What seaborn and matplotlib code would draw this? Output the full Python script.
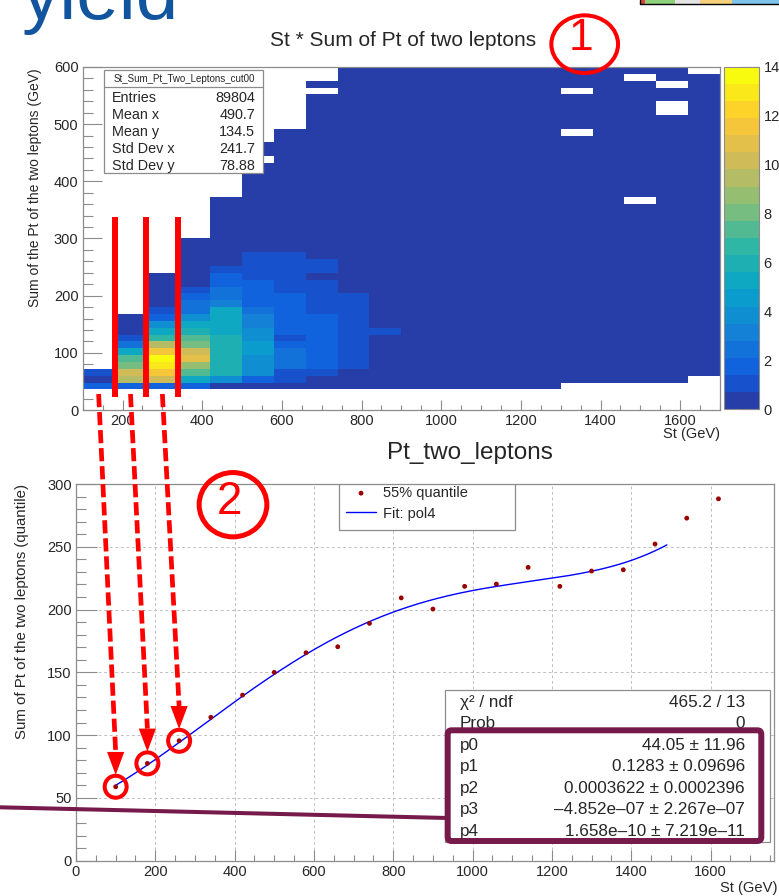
import numpy as np
import pandas as pd
import matplotlib
matplotlib.use("Agg")
import matplotlib.pyplot as plt
import seaborn as sns
from matplotlib.colors import LinearSegmentedColormap, ListedColormap
from matplotlib.patches import Rectangle, Ellipse, Polygon, FancyBboxPatch
from matplotlib.lines import Line2D
from matplotlib.ticker import MultipleLocator
from matplotlib.transforms import IdentityTransform

# ---- top panel: St vs sum of Pt of the two leptons (80 GeV x 12 GeV bins) ----
st_bin_low = [100, 180, 260, 340, 420, 500, 580, 660, 740, 820,
              900, 980, 1060, 1140, 1220, 1300, 1380, 1460, 1540, 1620]
st_bin_width = 80
pt_bin_width = 12
pt_first_bin = [3] * 15 + [4] * 4 + [5]
lo = 0.4  # cells in the lowest (dark blue) level
cell_counts = [
    [1.8, lo, 1.0],
    [1.8, 9.4, 10.2, 8.0, 7.3, 5.0, 2.5, 1.0, lo, lo, lo],
    [1.8, 10.0, 11.5, 12.9, 13.6, 11.5, 9.4, 6.7, 5.2, 3.8, 1.8, 1.0] + [lo] * 5,
    [1.6, 5.0, 7.3, 8.8, 10.8, 10.2, 8.0, 7.5, 6.0, 5.0, 3.8, 2.5, 2.4, 1.6, 1.0] + [lo] * 7,
    [lo, 3.8] + [6.0] * 6 + [5.0] * 4 + [3.1, 2.5, 2.5, 1.8, 1.8, 1.0] + [lo] * 10,
    [lo, 1.8, 3.8, 3.8, 3.8, 4.5, 4.5, 3.8, 3.8, 3.1, 3.1, 2.5] + [1.8] * 4 + [1.0] * 4
    + [lo] * 13 + [0, lo, lo],
    [lo, 1.0, 1.0, 2.3, 2.3, 2.3, 1.8, 1.0] + [1.8] * 6 + [1.0] * 6 + [lo] * 18,
    [lo, lo, 1.0] + [1.8] * 8 + [1.0] * 5 + [lo, 1.0, 1.0] + [lo] * 24 + [0, lo],
    [lo] * 3 + [1.0] * 11 + [lo] * 33,
    [lo] * 8 + [1.0] + [lo] * 38,
    [lo] * 47,
    [lo] * 47,
    [lo] * 47,
    [lo] * 47,
    [lo] * 47,
    [lo] * 36 + [0] + [lo] * 5 + [0] + [lo] * 3,
    [lo] * 46,
    [lo] * 26 + [0] + [lo] * 17 + [0, lo],
    [lo] * 39 + [0, 0, lo, lo, 0, lo, lo],
    [lo] * 44,
]
stat_names = ["Entries", "Mean x", "Mean y", "Std Dev x", "Std Dev y"]
stat_values = ["89804", "490.7", "134.5", "241.7", "78.88"]
marked_edges = [180, 260, 340]
marked_centres = [140, 220, 300]

# ---- bottom panel: 55% quantile per St slice + pol4 fit ----
quantile_st = [100, 180, 260, 340, 420, 500, 580, 660, 740, 820,
               900, 980, 1060, 1140, 1220, 1300, 1380, 1460, 1540, 1620]
quantile_pt = [58.9, 77.5, 95.5, 114.2, 131.9, 150.0, 165.6, 170.4, 189.0, 209.3,
               200.4, 218.5, 220.3, 233.6, 218.5, 230.7, 231.7, 252.2, 272.8, 288.2]
fit_params = [44.05, 0.1283, 0.0003622, -4.852e-07, 1.658e-10]
fit_range = (100, 1490)
fit_names = ["χ² / ndf", "Prob", "p0", "p1", "p2", "p3", "p4"]
fit_values = ["465.2 / 13", "0", "44.05 ± 11.96", "0.1283 ± 0.09696",
              "0.0003622 ± 0.0002396", "–4.852e–07 ± 2.267e–07",
              "1.658e–10 ± 7.219e–11"]

sns.set_style("white")
plt.rcParams["font.family"] = ["Liberation Sans", "DejaVu Sans"]
plt.rcParams["lines.scale_dashes"] = False

W, H = 779, 896
fig = plt.figure(figsize=(W / 100, H / 100), dpi=100)
ID = IdentityTransform()
FRAME = "#8c8c8c"


def frect(x0, y0, x1, y1):
    return [x0 / W, 1 - y1 / H, (x1 - x0) / W, (y1 - y0) / H]


def ftext(x, y, s, **kw):
    kw.setdefault("zorder", 11)
    fig.text(x, H - y, s, transform=ID, **kw)


ax1 = fig.add_axes(frect(82.7, 67, 720, 410))
cax = fig.add_axes(frect(724, 66.7, 759.3, 409.3))
ax2 = fig.add_axes(frect(76, 484, 774, 860.7))

# ROOT kBird palette with 20 contour levels
bird_stops = [0.0, 0.125, 0.25, 0.375, 0.5, 0.625, 0.75, 0.875, 1.0]
bird_rgb = [(0.2082, 0.1664, 0.5293), (0.0592, 0.3599, 0.8684), (0.0780, 0.5041, 0.8385),
            (0.0232, 0.6419, 0.7914), (0.1802, 0.7178, 0.6425), (0.5301, 0.7492, 0.4662),
            (0.8186, 0.7328, 0.3499), (0.9956, 0.7862, 0.1968), (0.9764, 0.9832, 0.0539)]
bird = LinearSegmentedColormap.from_list("bird", list(zip(bird_stops, bird_rgb)))
bird20 = ListedColormap([bird(min((i + 0.99) / 20, 1.0)) for i in range(20)])

rows = []
for st0, first, counts in zip(st_bin_low, pt_first_bin, cell_counts):
    for k, c in enumerate(counts):
        rows.append((st0 + st_bin_width / 2, (first + k + 0.5) * pt_bin_width, c))
cells = pd.DataFrame(rows, columns=["st", "pt", "w"])
st_edges = st_bin_low + [st_bin_low[-1] + st_bin_width]
pt_edges = np.arange(0, 601, pt_bin_width)

sns.histplot(data=cells, x="st", y="pt", weights="w", bins=(st_edges, pt_edges),
             cmap=bird20, cbar=True, cbar_ax=cax, ax=ax1)
mesh = ax1.collections[0]
mesh.set_clim(0, 14)

ax1.set_xlim(100, 1700)
ax1.set_ylim(0, 600)
ax1.set_xlabel("")
ax1.set_ylabel("")
ax1.xaxis.set_major_locator(MultipleLocator(200))
ax1.xaxis.set_minor_locator(MultipleLocator(50))
ax1.yaxis.set_major_locator(MultipleLocator(100))
ax1.yaxis.set_minor_locator(MultipleLocator(20))
ax1.tick_params(axis="x", which="major", direction="in", length=7.4, width=0.8,
                color=FRAME, labelsize=10.5, pad=3, bottom=True)
ax1.tick_params(axis="x", which="minor", direction="in", length=3.7, width=0.8,
                color=FRAME, bottom=True)
ax1.tick_params(axis="y", which="major", direction="in", length=13.7, width=0.8,
                color=FRAME, labelsize=10.5, pad=3, left=True)
ax1.tick_params(axis="y", which="minor", direction="in", length=6.9, width=0.8,
                color=FRAME, left=True)
for sp in ax1.spines.values():
    sp.set_color(FRAME)
    sp.set_linewidth(0.9)
ax1.vlines(marked_edges, 23, 338, color="red", lw=4.3, zorder=5)

cax.set_yticks(range(0, 15, 2))
cax.tick_params(axis="y", direction="in", length=13.4, width=0.8, color="#555555",
                labelsize=10.5, pad=3, right=True, left=False)
cax.yaxis.set_minor_locator(plt.NullLocator())
for sp in cax.spines.values():
    sp.set_color(FRAME)
    sp.set_linewidth(0.8)

# ---- bottom panel ----
sns.scatterplot(x=quantile_st, y=quantile_pt, ax=ax2, color="#990000", s=12,
                edgecolor="none", label="55% quantile", zorder=4)
fit_x = np.linspace(fit_range[0], fit_range[1], 300)
fit_y = np.polyval(fit_params[::-1], fit_x)
sns.lineplot(x=fit_x, y=fit_y, ax=ax2, color="#0000ff", lw=1.0, label="Fit: pol4", zorder=3)

ax2.set_xlim(0, 1760)
ax2.set_ylim(0, 300)
ax2.xaxis.set_major_locator(MultipleLocator(200))
ax2.xaxis.set_minor_locator(MultipleLocator(50))
ax2.yaxis.set_major_locator(MultipleLocator(50))
ax2.yaxis.set_minor_locator(MultipleLocator(10))
ax2.grid(True, which="major", linestyle=(0, (2, 2)), color="#bdbdbd", lw=0.7)
ax2.tick_params(axis="x", which="major", direction="in", length=8.1, width=0.8,
                color=FRAME, labelsize=10.5, pad=3, bottom=True)
ax2.tick_params(axis="x", which="minor", direction="in", length=4, width=0.8,
                color=FRAME, bottom=True)
ax2.tick_params(axis="y", which="major", direction="in", length=15, width=0.8,
                color=FRAME, labelsize=10.5, pad=3, left=True)
ax2.tick_params(axis="y", which="minor", direction="in", length=7.5, width=0.8,
                color=FRAME, left=True)
for sp in ax2.spines.values():
    sp.set_color(FRAME)
    sp.set_linewidth(0.9)

ax2.legend(loc="upper left", bbox_to_anchor=(346, H - 486), bbox_transform=ID,
           frameon=False, fontsize=10.5, borderpad=0, borderaxespad=0,
           handlelength=2.06, handletextpad=0.5, labelspacing=0.45)
ax2.add_patch(Rectangle((339, H - 530), 176, 46, transform=ID, fc="white",
                        ec=FRAME, lw=0.9, zorder=4.5))

# circles around the first three quantile points
ax2.scatter(quantile_st[:3], quantile_pt[:3], s=250, facecolors="none",
            edgecolors="red", linewidths=2.9, zorder=6, clip_on=False)

# ---- texts ----
ftext(22, 19.3, "yield", fontsize=55, color="#11559e", va="baseline", ha="left")
ftext(403.5, 45.7, "St * Sum of Pt of two leptons", fontsize=15, va="baseline", ha="center")
ftext(470, 459, "Pt_two_leptons", fontsize=17.5, va="baseline", ha="center")
ftext(35, 68, "Sum of the Pt of the two leptons (GeV)", fontsize=10, rotation=90,
      ha="center", va="top")
ftext(720, 434, "St (GeV)", fontsize=10.5, ha="right", va="center")
ftext(22, 484, "Sum of Pt of the two leptons (quantile)", fontsize=10.8, rotation=90,
      ha="center", va="top")
ftext(777, 888, "St (GeV)", fontsize=10.6, ha="right", va="center")

# stats box of the 2D histogram
fig.add_artist(Rectangle((104.3, H - 173.3), 159, 103.3, transform=ID, fc="white",
                         ec=FRAME, lw=0.9, zorder=10))
fig.add_artist(Line2D([104.3, 263.3], [H - 86.7, H - 86.7], transform=ID,
                      color=FRAME, lw=0.9, zorder=10))
ftext(183.8, 81.7, "St_Sum_Pt_Two_Leptons_cut00", fontsize=7, ha="center", va="baseline")
for i, (n, v) in enumerate(zip(stat_names, stat_values)):
    y = 101.7 + i * 17.1
    ftext(111.7, y, n, fontsize=10.4, ha="left", va="baseline")
    ftext(255, y, v, fontsize=10.4, ha="right", va="baseline")

# fit box
fig.add_artist(Rectangle((445, H - 842), 325, 152, transform=ID, fc="white",
                         ec=FRAME, lw=0.9, zorder=10))
for i, (n, v) in enumerate(zip(fit_names, fit_values)):
    y = 706.7 + i * 21.5
    ftext(460, y, n, fontsize=12.3, ha="left", va="baseline")
    ftext(745, y, v, fontsize=12.3, ha="right", va="baseline")

# ---- annotations ----
PURPLE = "#761a4c"
fig.add_artist(FancyBboxPatch((447.7, H - 841), 313.6, 110.7, transform=ID,
                              boxstyle="round,pad=0,rounding_size=4", fill=False,
                              ec=PURPLE, lw=4.3, zorder=12))
fig.add_artist(Line2D([0, 447.7], [H - 807.3, H - 818], transform=ID, color=PURPLE,
                      lw=2.9, zorder=12, solid_capstyle="butt"))

fig.add_artist(Ellipse((584.7, H - 44.2), 66.7, 57.7, transform=ID, fill=False,
                       ec="red", lw=2.9, zorder=13))
ftext(581, 38, "1", fontsize=32, color="red", ha="center", va="center", zorder=13)
fig.add_artist(Ellipse((233, H - 504.7), 67.7, 64.3, transform=ID, fill=False,
                       ec="red", lw=3.6, zorder=13))
ftext(229.2, 501.7, "2", fontsize=33, color="red", ha="center", va="center", zorder=13)

for st0, xq, yq in zip(marked_centres, quantile_st[:3], quantile_pt[:3]):
    x0, y0 = ax1.transData.transform((st0, 28))
    xp, yp = ax2.transData.transform((xq, yq))
    tip = yp + 11.8
    base = tip + 23
    fig.add_artist(Line2D([x0, xp], [y0, base], transform=ID, color="red", lw=3.4,
                          linestyle=(0, (9.5, 3.5)), dash_capstyle="butt", zorder=13))
    fig.add_artist(Polygon([[xp - 8.6, base], [xp + 8.6, base], [xp, tip]], closed=True,
                           transform=ID, fc="red", ec="none", zorder=13))

# piece of the slide logo at the top right
logo = [(640, 645, "#d8453a"), (645, 675, "#8fd07a"), (675, 700, "#e4e4e4"),
        (700, 732, "#f5d07c"), (732, 779, "#7fc3ea")]
for a, b, c in logo:
    fig.add_artist(Rectangle((a, H - 4), b - a, 4, transform=ID, fc=c, ec="none", zorder=10))
fig.add_artist(Line2D([639.5, 779], [H - 4.3, H - 4.3], transform=ID, color="black", lw=1, zorder=11))
fig.add_artist(Line2D([639.5, 639.5], [H, H - 4.3], transform=ID, color="black", lw=1, zorder=11))

fig.savefig("out.png", dpi=100)
